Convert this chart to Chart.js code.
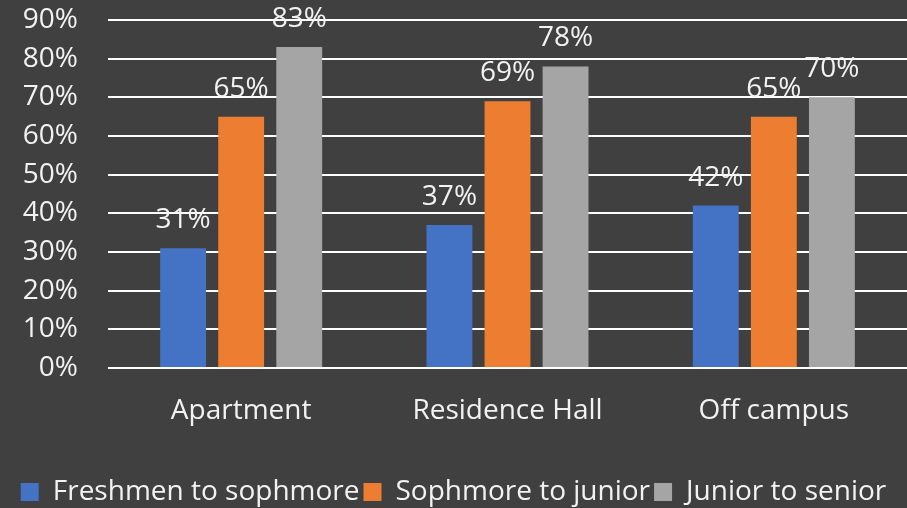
<!DOCTYPE html>
<html>
<head>
<meta charset="utf-8">
<script src="https://cdn.jsdelivr.net/npm/chart.js@4"></script>
<style>
  html, body { margin: 0; padding: 0; background: #404040; }
  #wrap { width: 907px; height: 508px; }
</style>
</head>
<body>
<div id="wrap"><canvas id="myChart" width="907" height="508"></canvas></div>
<script>
// Dữ liệu
const categories = ["Apartment", "Residence Hall", "Off campus"];
const seriesNames = ["Freshmen to sophmore", "Sophmore to junior", "Junior to senior"];
const freshmenValues = [31, 37, 42];
const sophmoreValues = [65, 69, 65];
const juniorValues = [83, 78, 70];
const yTicks = [0, 10, 20, 30, 40, 50, 60, 70, 80, 90];

const textColor = "#f2f2f2";
const fontFamily = "'Open Sans', 'Noto Sans', sans-serif";
const fontSize = 28;

// Plugin vẽ nhãn giá trị trên cột
const valueLabels = {
  id: "valueLabels",
  afterDatasetsDraw(chart) {
    const ctx = chart.ctx;
    ctx.save();
    ctx.fillStyle = textColor;
    ctx.font = fontSize + "px " + fontFamily;
    ctx.textAlign = "center";
    ctx.textBaseline = "alphabetic";
    chart.data.datasets.forEach((ds, i) => {
      const meta = chart.getDatasetMeta(i);
      meta.data.forEach((bar, j) => {
        ctx.fillText(ds.data[j] + "%", bar.x, bar.y - 20);
      });
    });
    ctx.restore();
  },
};

Chart.defaults.font.family = fontFamily;
Chart.defaults.color = textColor;

const ctx = document.getElementById("myChart").getContext("2d");
new Chart(ctx, {
  type: "bar",
  data: {
    labels: categories,
    datasets: [
      { label: seriesNames[0], data: freshmenValues, backgroundColor: "#4472c4" },
      { label: seriesNames[1], data: sophmoreValues, backgroundColor: "#ed7d31" },
      { label: seriesNames[2], data: juniorValues, backgroundColor: "#a5a5a5" },
    ],
  },
  options: {
    responsive: false,
    animation: false,
    categoryPercentage: 0.654,
    barPercentage: 0.79,
    layout: { padding: { top: 20, right: 0, left: 0, bottom: -8 } },
    plugins: {
      legend: {
        position: "bottom",
        labels: {
          boxWidth: 18,
          boxHeight: 18,
          padding: 4,
          color: textColor,
          font: { size: fontSize },
        },
      },
      tooltip: { enabled: false },
    },
    scales: {
      x: {
        grid: { display: false, drawTicks: false },
        border: { display: false },
        ticks: { padding: 26, color: textColor, font: { size: fontSize } },
        afterFit(scale) {
          scale.height = 106;
        },
      },
      y: {
        min: 0,
        max: 90,
        afterBuildTicks(scale) {
          scale.ticks = yTicks.map((v) => ({ value: v }));
        },
        grid: {
          color: "#ffffff",
          lineWidth: 2,
          drawTicks: true,
          tickLength: 30,
          tickColor: "rgba(0,0,0,0)",
        },
        border: { display: false },
        ticks: {
          padding: 0,
          color: textColor,
          font: { size: fontSize },
          callback: (v) => v + "%",
        },
        afterFit(scale) {
          scale.width = 108;
        },
      },
    },
  },
  plugins: [valueLabels],
});
</script>
</body>
</html>
